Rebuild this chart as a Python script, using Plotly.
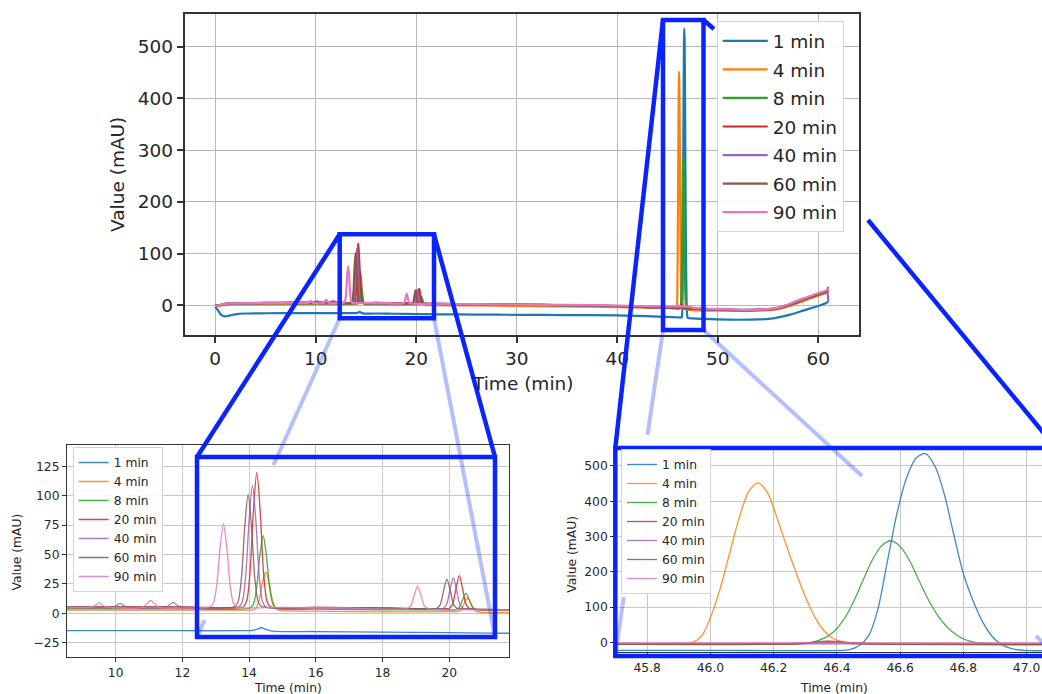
import plotly.graph_objects as go

# ---------------------------------------------------------------------------
# Chromatogram traces (time in min, absorbance in mAU)
# ---------------------------------------------------------------------------
t_1min = [0.0, 0.3, 0.6, 1.0, 1.5, 2.0, 3.0, 5.0, 8.0, 10.0,
          12.0, 13.8, 14.1, 14.25, 14.37, 14.5, 14.7, 16.0, 18.0, 20.0,
          22.0, 26.0, 30.0, 35.0, 40.0, 42.0, 44.0, 45.5, 46.0, 46.41,
          46.44, 46.47, 46.50, 46.53, 46.56, 46.59, 46.62, 46.65, 46.68, 46.71,
          46.74, 46.77, 46.80, 46.83, 46.86, 46.89, 46.92, 46.95, 46.99, 47.05,
          47.5, 48.5, 50.0, 52.0, 54.0, 55.5, 56.5, 57.5, 58.5, 59.5,
          60.3, 60.8, 61.0]
v_1min = [-2, -10, -18, -21, -19, -17, -15.5, -15, -14.8, -14.8,
          -14.8, -14.8, -14.6, -13.4, -12.3, -13.6, -15.2, -15.5, -16, -16.5,
          -17, -17.5, -18, -18.5, -19, -20, -21.5, -22.5, -23, -23,
          -21, -10, 18, 95, 230, 365, 465, 522, 535, 500,
          420, 305, 195, 120, 60, 18, -6, -17, -23, -24,
          -25, -26, -27, -27.5, -27, -25, -21, -16, -10, -4,
          1, 5, 8]

t_4min = [0.0, 0.5, 1.0, 2.0, 5.0, 8.0, 12.0, 14.0, 14.1, 14.2,
          14.3, 14.4, 14.5, 14.6, 14.7, 14.8, 14.9, 16.0, 18.0, 20.0,
          20.25, 20.35, 20.45, 20.55, 20.65, 20.75, 20.85, 22.0, 26.0, 30.0,
          35.0, 40.0, 43.0, 45.5, 45.90, 45.94, 45.97, 46.00, 46.03, 46.06,
          46.09, 46.12, 46.15, 46.18, 46.21, 46.24, 46.27, 46.30, 46.33, 46.36,
          46.39, 46.43, 46.50, 47.0, 47.5, 50.0, 54.0, 56.0, 57.0, 58.0,
          59.0, 60.0, 60.8, 61.0]
v_4min = [-1, 0, 1.5, 2, 2.5, 2.8, 2.8, 2.7, 2.7, 4.2,
          11, 26, 35, 26, 11, 4.2, 2.6, 1.8, 1.2, 1.5,
          1.7, 3, 8.5, 13, 8.5, 3, 1.2, 0.5, 0, -1,
          -2, -3, -4, -4, -4, -1, 15, 70, 150, 250,
          350, 425, 452, 425, 355, 275, 200, 130, 72, 32,
          10, 0, -4, -8, -9, -10, -10, -7, -2, 5,
          12, 19, 24, 26]

t_8min = [0.0, 0.5, 1.0, 2.0, 5.0, 8.0, 12.0, 14.0, 14.12, 14.22,
          14.32, 14.42, 14.52, 14.62, 14.72, 14.82, 16.0, 18.0, 20.0, 20.2,
          20.3, 20.4, 20.5, 20.6, 20.7, 20.8, 22.0, 26.0, 30.0, 35.0,
          40.0, 43.0, 45.5, 46.28, 46.32, 46.36, 46.39, 46.42, 46.45, 46.48,
          46.51, 46.54, 46.57, 46.60, 46.63, 46.66, 46.69, 46.72, 46.75, 46.78,
          46.81, 46.85, 46.90, 47.5, 50.0, 54.0, 56.0, 57.0, 58.0, 59.0,
          60.0, 60.8, 61.0]
v_8min = [-1, 0, 2, 3, 3.8, 4, 4, 4.3, 7.2, 20.5,
          48.5, 66, 48.5, 20.5, 7.2, 4.2, 3.5, 3, 3, 3.2,
          4.9, 11.5, 17, 11.5, 4.9, 3.2, 2.5, 2, 1, 0,
          -1.5, -3, -4.5, -4.5, 0, 12, 30, 62, 110, 170,
          230, 272, 288, 272, 232, 175, 120, 75, 42, 20,
          6, -2, -5, -6, -8, -8, -5, 0, 7, 14,
          21, 26, 28]

t_20min = [0.0, 0.5, 1.0, 2.0, 5.0, 8.0, 12.0, 13.83, 13.93, 14.03,
           14.13, 14.23, 14.33, 14.43, 14.53, 14.63, 16.0, 18.0, 19.9, 20.0,
           20.1, 20.2, 20.3, 20.4, 20.5, 20.6, 22.0, 26.0, 30.0, 35.0,
           40.0, 43.0, 45.5, 46.2, 46.3, 46.37, 46.45, 46.55, 47.0, 47.5,
           50.0, 54.0, 56.0, 57.0, 58.0, 59.0, 60.0, 60.8, 61.0]
v_20min = [0, 1, 3, 4, 5, 5.5, 5.5, 5.6, 10.9, 35.6,
           87.6, 120, 87.6, 35.6, 10.9, 5.6, 5, 4.5, 4, 4.3,
           7.8, 21, 32, 21, 7.8, 4.3, 3, 2.5, 1.5, 0.5,
           -1, -3, -5, -5, -2, 3, -1, -5, -5.5, -6,
           -8, -8.5, -5, 1, 8, 15, 22, 27, 29]

t_40min = [0.0, 0.5, 1.0, 2.0, 5.0, 8.0, 9.9, 10.03, 10.13, 10.23,
           10.36, 11.5, 11.62, 11.72, 11.82, 11.95, 13.6, 13.7, 13.8, 13.9,
           14.0, 14.1, 14.2, 14.3, 14.4, 14.5, 16.0, 18.0, 19.72, 19.82,
           19.92, 20.02, 20.12, 20.22, 20.32, 20.42, 20.52, 22.0, 26.0, 30.0,
           35.0, 40.0, 43.0, 45.5, 47.0, 47.5, 50.0, 54.0, 56.0, 57.0,
           58.0, 59.0, 60.0, 60.6, 60.85, 61.0]
v_40min = [0, 1, 3, 4, 4.5, 5, 5, 6.8, 8.5, 6.8,
           5, 5, 7.5, 9, 7.5, 5, 5, 5.5, 10.3, 32.7,
           79.7, 109, 79.7, 32.7, 10.3, 5.5, 4.5, 4, 4, 4.3,
           7.5, 19.8, 30, 19.8, 7.5, 4.3, 4, 3, 2.5, 1.5,
           0.5, -1, -3, -4, -4.5, -6, -8, -8.5, -5, 1,
           8, 15, 22, 26, 28, 8]

t_60min = [0.0, 0.5, 1.0, 2.0, 5.0, 8.0, 12.0, 13.57, 13.67, 13.77,
           13.87, 13.97, 14.07, 14.17, 14.27, 14.37, 16.0, 18.0, 19.53, 19.63,
           19.73, 19.83, 19.93, 20.03, 20.13, 20.23, 20.33, 22.0, 26.0, 30.0,
           35.0, 40.0, 43.0, 45.5, 46.25, 46.38, 46.5, 47.5, 50.0, 54.0,
           56.0, 57.0, 58.0, 59.0, 60.0, 60.8, 61.0]
v_60min = [0, 1, 3, 4, 5, 5.5, 5.5, 5.8, 10, 30,
           74, 101, 74, 30, 10, 5.8, 5, 4.5, 4, 4.3,
           7.4, 19.2, 29, 19.2, 7.4, 4.3, 4, 3, 2.5, 1.5,
           0.5, -1, -3, -5, -5, -1, -5, -6, -8, -8.5,
           -5, 1, 8, 15, 22, 27, 36]

t_90min = [0.0, 0.5, 1.0, 2.0, 5.0, 8.0, 9.2, 9.3, 9.4, 9.5,
           9.6, 9.7, 10.8, 10.95, 11.05, 11.15, 11.3, 12.7, 12.83, 12.93,
           13.03, 13.13, 13.23, 13.33, 13.43, 13.53, 13.63, 15.0, 17.0, 18.75,
           18.85, 18.95, 19.05, 19.15, 19.25, 19.35, 22.0, 26.0, 30.0, 35.0,
           40.0, 43.0, 45.5, 47.0, 47.5, 50.0, 54.0, 56.0, 57.0, 58.0,
           59.0, 60.0, 60.8, 61.0]
v_90min = [-1, 1, 3, 4, 4.5, 5, 5, 5.4, 7, 9,
           7, 5.4, 5, 8.5, 11, 8.5, 5, 5, 5.4, 8.6,
           24, 56, 76, 56, 24, 8.6, 5.4, 5, 4.5, 4.2,
           6.6, 15.5, 23, 15.5, 6.6, 4.2, 3, 2.5, 1.5, 1,
           0, -1.5, -2, -2, -4, -7, -8, -4, 2, 10,
           17, 24, 29, 34]

series_names = ["1 min", "4 min", "8 min", "20 min", "40 min", "60 min", "90 min"]
series_colors = ["#1f77b4", "#ff7f0e", "#2ca02c", "#d62728",
                 "#9467bd", "#8c564b", "#e377c2"]
series_t = [t_1min, t_4min, t_8min, t_20min, t_40min, t_60min, t_90min]
series_v = [v_1min, v_4min, v_8min, v_20min, v_40min, v_60min, v_90min]
for t, v in zip(series_t, series_v):
    assert len(t) == len(v)

# tick positions of the three panels
main_xticks = [0, 10, 20, 30, 40, 50, 60]
main_yticks = [0, 100, 200, 300, 400, 500]
left_xticks = [10, 12, 14, 16, 18, 20]
left_yticks = [-25, 0, 25, 50, 75, 100, 125]
right_xticks = [45.8, 46.0, 46.2, 46.4, 46.6, 46.8, 47.0]
right_yticks = [0, 100, 200, 300, 400, 500]

# ---------------------------------------------------------------------------
W, H = 1042, 694
FONT = "DejaVu Sans"
TXT = "#262626"


def px(x):
    return x / W


def py(y):
    return 1 - y / H


fig = go.Figure()

panels = [
    ("x", "y", "legend", 2.2, 1.0),
    ("x2", "y2", "legend2", 1.3, 0.85),
    ("x3", "y3", "legend3", 1.3, 0.85),
]
for xa, ya, lg, lw, op in panels:
    for name, t, v, c in zip(series_names, series_t, series_v, series_colors):
        fig.add_trace(go.Scatter(
            x=t, y=v, mode="lines", name=name,
            line=dict(color=c, width=lw, shape="spline", smoothing=0.8),
            opacity=op, xaxis=xa, yaxis=ya, legend=lg,
            legendgroup=f"{lg}:{name}",
            hoverinfo="skip",
        ))


def axis(size, ticklen, lw, grid, **kw):
    d = dict(
        showline=True, linecolor="#333333", linewidth=lw, mirror=True,
        ticks="outside", ticklen=ticklen, tickwidth=lw, tickcolor="#333333",
        showgrid=True, gridcolor=grid, gridwidth=1, zeroline=False,
        tickfont=dict(family=FONT, size=size, color=TXT),
        automargin=False,
    )
    d.update(kw)
    return d


def legend_box(x, y, size, gap, itemwidth):
    return dict(
        x=px(x), y=py(y), xanchor="left", yanchor="top",
        xref="paper", yref="paper",
        bgcolor="rgba(255,255,255,0.88)", bordercolor="#d4d4d4", borderwidth=1,
        font=dict(family=FONT, size=size, color=TXT),
        tracegroupgap=gap, itemwidth=itemwidth, traceorder="grouped",
    )


fig.update_layout(
    width=W, height=H,
    margin=dict(l=0, r=0, t=0, b=0, pad=0, autoexpand=False),
    paper_bgcolor="white", plot_bgcolor="white",
    font=dict(family=FONT, color=TXT),
    xaxis=axis(18.5, 6, 1.5, "#b8b8b8", domain=[px(184.5), px(859)],
               range=[-3.05, 64.05], tickvals=main_xticks, anchor="y"),
    yaxis=axis(18.5, 6, 1.5, "#b8b8b8", domain=[py(335), py(14)],
               range=[-57, 563], tickvals=main_yticks, anchor="x"),
    xaxis2=axis(12.3, 4, 1.1, "#c8c8c8", domain=[px(67), px(509.3)],
                range=[8.54, 21.8], tickvals=left_xticks, anchor="y2"),
    yaxis2=axis(12.3, 4, 1.1, "#c8c8c8", domain=[py(656.7), py(445)],
                range=[-36.9, 143.1], tickvals=left_yticks, anchor="x2"),
    xaxis3=axis(12.3, 4, 1.1, "#c8c8c8", domain=[px(615.3), 1.0],
                range=[45.699, 47.049], tickvals=right_xticks,
                tickformat=".1f", anchor="y3"),
    yaxis3=axis(12.3, 4, 1.1, "#c8c8c8", domain=[py(652), py(448)],
                range=[-27.5, 551], tickvals=right_yticks, anchor="x3",
                mirror=False),
    legend=legend_box(716.7, 21.3, 18.5, 1.5, 45),
    legend2=legend_box(72.7, 447, 12.3, 0, 30),
    legend3=legend_box(621, 449, 12.3, 0, 30),
    showlegend=True,
)

# axis titles
titles = [
    ("Value (mAU)", 117, 175, 18.5, -90),
    ("Time (min)", 522, 383, 18.5, 0),
    ("Value (mAU)", 16.7, 551.7, 12.3, -90),
    ("Time (min)", 288.3, 688.3, 12.3, 0),
    ("Value (mAU)", 571.7, 554, 12.3, -90),
    ("Time (min)", 834, 688.3, 12.3, 0),
]
for text, x, y, size, angle in titles:
    fig.add_annotation(
        text=text, x=px(x), y=py(y), xref="paper", yref="paper",
        showarrow=False, textangle=angle, xanchor="center", yanchor="middle",
        font=dict(family=FONT, size=size, color=TXT),
    )

# zoom-region boxes and their connectors
BLUE = "#0a24ff"
PALE = "rgba(10,40,255,0.30)"


def seg(x0, y0, x1, y1, color, width):
    fig.add_shape(type="line", xref="paper", yref="paper",
                  x0=px(x0), y0=py(y0), x1=px(x1), y1=py(y1),
                  line=dict(color=color, width=width), layer="above")


def box(x0, y0, x1, y1):
    fig.add_shape(type="rect", xref="paper", yref="paper",
                  x0=px(x0), y0=py(y0), x1=px(x1), y1=py(y1),
                  line=dict(color=BLUE, width=4.5), fillcolor="rgba(0,0,0,0)",
                  layer="above")


# pale connectors (drawn first, underneath the bold ones)
seg(339.7, 318.3, 273.5, 465, PALE, 4)
seg(204.6, 620, 197, 637, PALE, 4)
seg(434, 318.3, 495, 637, PALE, 4)
seg(663, 330, 647.5, 435, PALE, 4)
seg(623.7, 597, 615.3, 656, PALE, 4)
seg(703.5, 330, 862, 476, PALE, 4)
seg(1036, 636, 1057, 656, PALE, 4)

# left zoom region
box(339.7, 234.3, 434, 318.3)
box(197, 457, 495, 637)
seg(339.7, 234.3, 197, 457, BLUE, 4.5)
seg(434, 234.3, 495, 457, BLUE, 4.5)

# right zoom region
box(663, 20, 703.5, 330)
box(615.3, 448, 1057, 656)
seg(663, 20, 615.3, 448, BLUE, 4.5)
seg(703.5, 20, 714, 29, BLUE, 4.5)
seg(868, 220, 1056, 448, BLUE, 4.5)

fig.write_html("out.html")
